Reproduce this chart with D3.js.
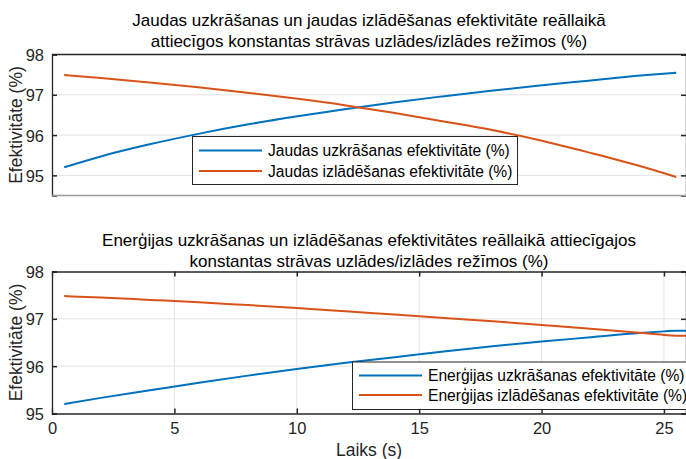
<!DOCTYPE html>
<html>
<head>
<meta charset="utf-8">
<script src="https://cdn.jsdelivr.net/npm/d3@7"></script>
<style>
  html, body { margin: 0; padding: 0; background: #fff; }
  svg { display: block; font-family: "Liberation Sans", Arial, Helvetica, sans-serif; }
</style>
</head>
<body>
<div id="chart"></div>
<script>
'use strict';

// ─── Data ──────────────────────────────────────────────────────────────────
const topTime     = [0.5, 2, 4, 6, 8, 10, 12, 14, 16, 18, 20, 22, 24, 25.6];
const heatStore   = [95.20, 95.47, 95.77, 96.03, 96.26, 96.46, 96.64, 96.81, 96.96, 97.10, 97.23, 97.35, 97.47, 97.55];
const heatRelease = [97.49, 97.415, 97.305, 97.185, 97.053, 96.907, 96.743, 96.553, 96.343, 96.13, 95.87, 95.57, 95.25, 94.96];

const botTime       = [0.5, 2, 4, 6, 8, 10, 12, 14, 16, 18, 20, 22, 24, 25, 25.5, 25.9];
const energyStore   = [95.20, 95.33, 95.49, 95.65, 95.80, 95.94, 96.07, 96.19, 96.31, 96.42, 96.52, 96.61, 96.70, 96.735, 96.75, 96.75];
const energyRelease = [97.48, 97.45, 97.40, 97.35, 97.29, 97.23, 97.16, 97.09, 97.02, 96.95, 96.87, 96.79, 96.705, 96.66, 96.645, 96.64];

const yTicks = [95, 96, 97, 98];
const xTicks = [0, 5, 10, 15, 20, 25];

const topTitle = ['Jaudas uzkrāšanas un jaudas izlādēšanas efektivitāte reāllaikā',
                  'attiecīgos konstantas strāvas uzlādes/izlādes režīmos (%)'];
const botTitle = ['Enerģijas uzkrāšanas un izlādēšanas efektivitātes reāllaikā attiecīgajos',
                  'konstantas strāvas uzlādes/izlādes režīmos (%)'];
const topLegend = ['Jaudas uzkrāšanas efektivitāte (%)', 'Jaudas izlādēšanas efektivitāte (%)'];
const botLegend = ['Enerģijas uzkrāšanas efektivitāte (%)', 'Enerģijas izlādēšanas efektivitāte (%)'];
const yLabel = 'Efektivitāte (%)';
const xLabel = 'Laiks (s)';

// ─── Styles ────────────────────────────────────────────────────────────────
const W = 686, H = 459;
const BLUE = '#0072BD', ORANGE = '#D95319';
const AXIS = '#262626', GRID = '#e3e3e3';

const svg = d3.select('#chart').append('svg')
    .attr('width', W).attr('height', H);

function drawPanel(cfg) {
    const x = d3.scaleLinear().domain(cfg.xDomain).range([cfg.left, cfg.right]);
    const y = d3.scaleLinear().domain(cfg.yDomain).range([cfg.bottom, cfg.top]);
    const g = svg.append('g');

    // grid
    g.selectAll('.hgrid').data(yTicks.filter(function (v) { return v > cfg.yDomain[0] && v < cfg.yDomain[1]; }))
        .enter().append('line')
        .attr('x1', cfg.left).attr('x2', cfg.right)
        .attr('y1', function (d) { return y(d); }).attr('y2', function (d) { return y(d); })
        .attr('stroke', GRID).attr('stroke-width', 1);
    if (cfg.xGrid) {
        g.selectAll('.vgrid').data(xTicks.filter(function (v) { return v > cfg.xDomain[0]; }))
            .enter().append('line')
            .attr('y1', cfg.top).attr('y2', cfg.bottom)
            .attr('x1', function (d) { return x(d); }).attr('x2', function (d) { return x(d); })
            .attr('stroke', GRID).attr('stroke-width', 1);
    }

    // lines
    const line = d3.line()
        .x(function (d) { return x(d[0]); })
        .y(function (d) { return y(d[1]); })
        .curve(d3.curveMonotoneX);
    cfg.series.forEach(function (s) {
        g.append('path')
            .datum(cfg.time.map(function (t, i) { return [t, s.values[i]]; }))
            .attr('d', line)
            .attr('fill', 'none')
            .attr('stroke', s.color)
            .attr('stroke-width', 2);
    });

    // axes (ticks inside, like MATLAB)
    const yAxis = g.append('g').attr('transform', 'translate(' + cfg.left + ',0)')
        .call(d3.axisLeft(y).tickValues(yTicks).tickSize(-5).tickPadding(8).tickFormat(d3.format('d')));
    const yAxisR = g.append('g').attr('transform', 'translate(' + cfg.right + ',0)')
        .call(d3.axisRight(y).tickValues(yTicks).tickSize(-5).tickFormat(''));
    [yAxis, yAxisR].forEach(function (a) {
        a.select('.domain').attr('stroke', AXIS).attr('stroke-width', 1.3);
        a.selectAll('.tick line').attr('stroke', AXIS).attr('stroke-width', 1.5);
    });
    yAxis.selectAll('.tick text').attr('fill', AXIS).style('font-size', '16.5px').attr('dy', '0.36em');

    if (cfg.xTicks) {
        const xAxis = g.append('g').attr('transform', 'translate(0,' + cfg.bottom + ')')
            .call(d3.axisBottom(x).tickValues(xTicks).tickSize(-5).tickPadding(9).tickFormat(d3.format('d')));
        const xAxisT = g.append('g').attr('transform', 'translate(0,' + cfg.top + ')')
            .call(d3.axisTop(x).tickValues(xTicks).tickSize(-5).tickFormat(''));
        [xAxis, xAxisT].forEach(function (a) {
            a.select('.domain').attr('stroke', AXIS).attr('stroke-width', 1.3);
            a.selectAll('.tick line').attr('stroke', AXIS).attr('stroke-width', 1.5);
        });
        xAxis.selectAll('.tick text').attr('fill', AXIS).style('font-size', '16.5px');
        xAxisT.selectAll('.tick').filter(function (d) { return d === 0; }).select('line').remove();
        xAxis.selectAll('.tick').filter(function (d) { return d === 0; }).select('line').remove();
    } else {
        g.append('line').attr('x1', cfg.left).attr('x2', cfg.right)
            .attr('y1', cfg.top).attr('y2', cfg.top)
            .attr('stroke', AXIS).attr('stroke-width', 1.3);
        g.append('line').attr('x1', cfg.left).attr('x2', cfg.right)
            .attr('y1', cfg.bottom).attr('y2', cfg.bottom)
            .attr('stroke', '#9a9a9a').attr('stroke-width', 1.5);
    }

    // title
    const cx = (cfg.left + cfg.right) / 2;
    cfg.title.forEach(function (t, i) {
        svg.append('text')
            .attr('x', cx).attr('y', cfg.titleY + i * 21.5)
            .attr('text-anchor', 'middle')
            .attr('fill', '#000')
            .style('font-size', '17px')
            .text(t);
    });

    // y label
    svg.append('text')
        .attr('transform', 'translate(22,' + ((cfg.top + cfg.bottom) / 2) + ') rotate(-90)')
        .attr('text-anchor', 'middle')
        .attr('fill', AXIS)
        .style('font-size', '17.5px')
        .text(yLabel);

    // legend
    const L = cfg.legend;
    svg.append('rect')
        .attr('x', L.x + 0.5).attr('y', L.y + 0.5)
        .attr('width', L.w).attr('height', L.h)
        .attr('fill', '#fff').attr('stroke', AXIS).attr('stroke-width', 1);
    cfg.series.forEach(function (s, i) {
        const yy = L.firstY + i * L.step;
        svg.append('line')
            .attr('x1', L.x + 7).attr('x2', L.x + 70)
            .attr('y1', yy).attr('y2', yy)
            .attr('stroke', s.color).attr('stroke-width', 2);
        svg.append('text')
            .attr('x', L.x + 76).attr('y', yy)
            .attr('dy', '0.36em')
            .attr('fill', '#000')
            .style('font-size', '15.6px')
            .text(s.label);
    });
}

drawPanel({
    left: 52, right: 686, top: 54.5, bottom: 195.5,
    xDomain: [0, 26], yDomain: [94.5, 98],
    xGrid: false, xTicks: false,
    time: topTime,
    series: [
        { values: heatStore,   color: BLUE,   label: topLegend[0] },
        { values: heatRelease, color: ORANGE, label: topLegend[1] }
    ],
    title: topTitle, titleY: 25.5,
    legend: { x: 192, y: 136, w: 325, h: 48, firstY: 150.5, step: 20.5 }
});

drawPanel({
    left: 52, right: 686, top: 271.5, bottom: 413.5,
    xDomain: [0, 25.9], yDomain: [95, 98],
    xGrid: true, xTicks: true,
    time: botTime,
    series: [
        { values: energyStore,   color: BLUE,   label: botLegend[0] },
        { values: energyRelease, color: ORANGE, label: botLegend[1] }
    ],
    title: botTitle, titleY: 245.5,
    legend: { x: 352, y: 361.5, w: 345, h: 47.5, firstY: 375.5, step: 19.5 }
});

// x label
svg.append('text')
    .attr('x', (52 + 686) / 2).attr('y', 456)
    .attr('text-anchor', 'middle')
    .attr('fill', AXIS)
    .style('font-size', '17.5px')
    .text(xLabel);
</script>
</body>
</html>
